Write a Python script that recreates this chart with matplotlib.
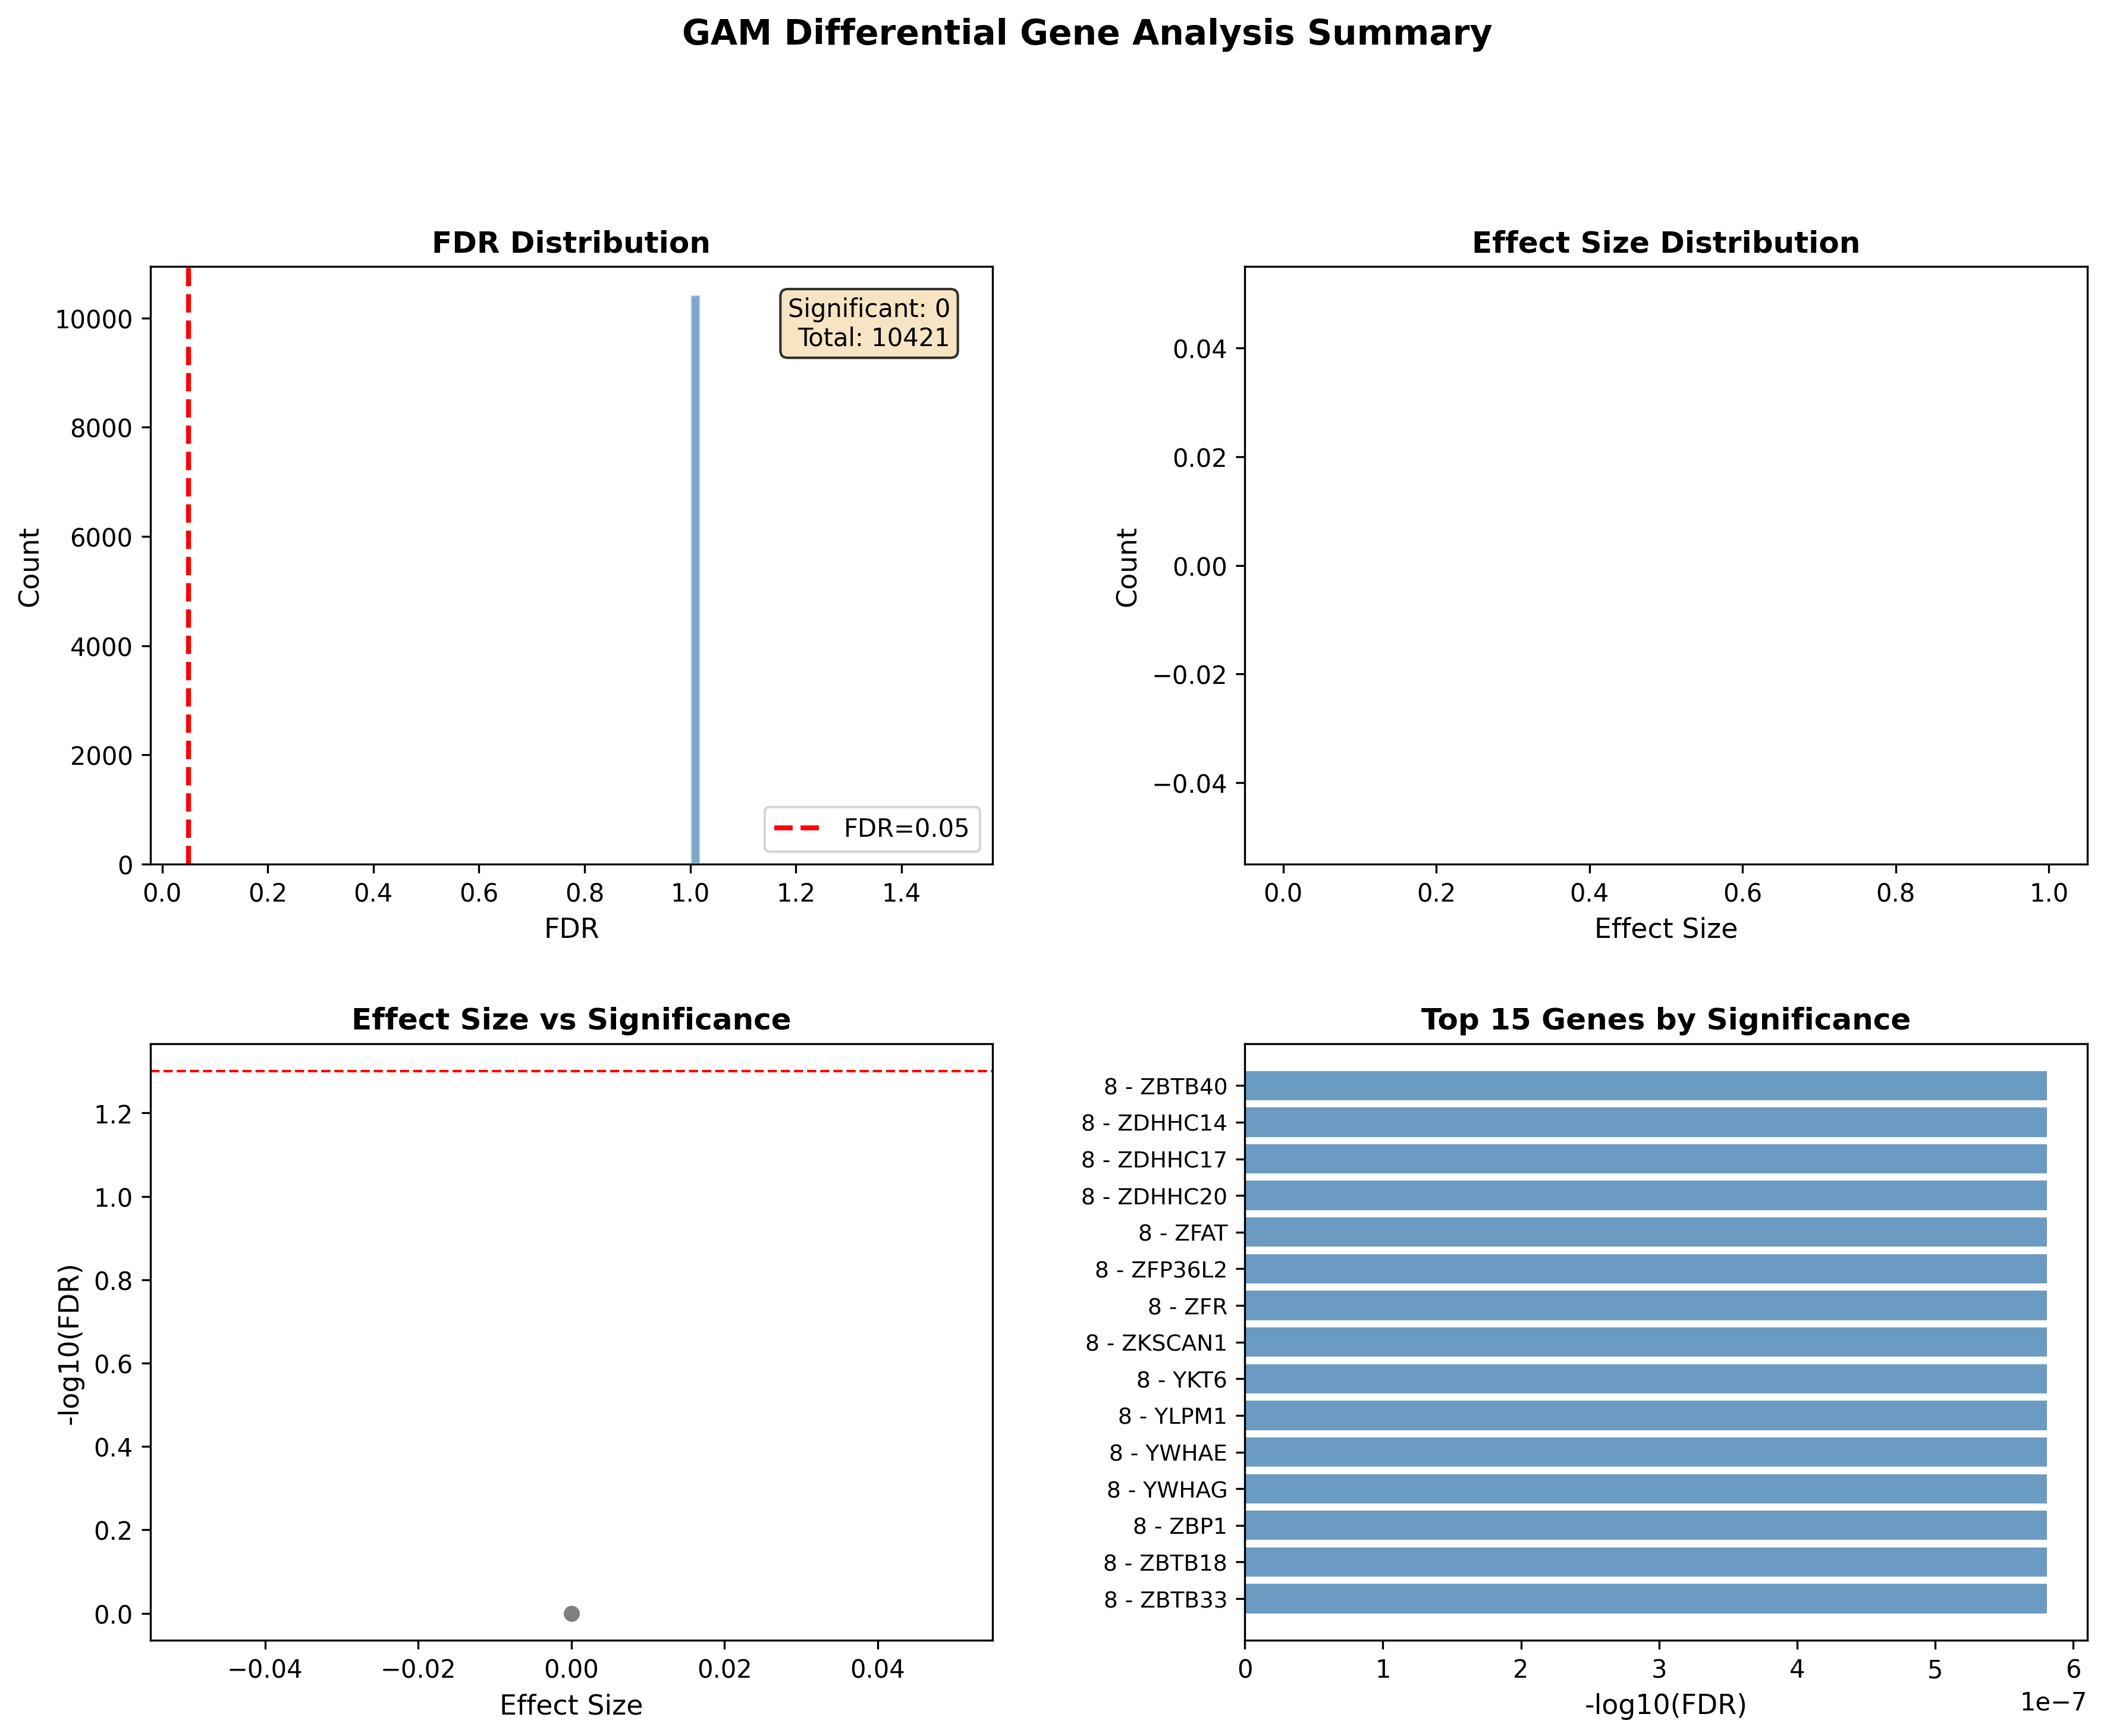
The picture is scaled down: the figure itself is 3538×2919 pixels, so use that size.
import matplotlib
matplotlib.use("Agg")
import matplotlib.pyplot as plt

# ---- data ----
fdr_values = [1.0]            # all genes have FDR = 1.0
fdr_counts = [10421]          # number of genes at that FDR
fdr_threshold = 0.05
n_significant = 0
n_total = 10421

effect_sizes_hist = []        # no finite effect sizes

scatter_effect = [0.0]
scatter_neglog_fdr = [0.0]
sig_line = 1.3010299956639813   # -log10(0.05)

top_gene_labels = ["8 - ZBTB33", "8 - ZBTB18", "8 - ZBP1", "8 - YWHAG", "8 - YWHAE",
                   "8 - YLPM1", "8 - YKT6", "8 - ZKSCAN1", "8 - ZFR", "8 - ZFP36L2",
                   "8 - ZFAT", "8 - ZDHHC20", "8 - ZDHHC17", "8 - ZDHHC14", "8 - ZBTB40"]
top_gene_values = [5.81e-7] * 15

# ---- figure ----
W, H = 3538, 2920
dpi = 300
fig = plt.figure(figsize=(W / dpi, H / dpi), dpi=dpi)

col_left = [252.7 / W, 2093.3 / W]
col_w = 1416.3 / W
row_bottom = [1 - 1454.0 / H, 1 - 2759.3 / H]
row_h = [1004.7 / H, 1003.3 / H]

ax1 = fig.add_axes([col_left[0], row_bottom[0], col_w, row_h[0]])
ax2 = fig.add_axes([col_left[1], row_bottom[0], col_w, row_h[0]])
ax3 = fig.add_axes([col_left[0], row_bottom[1], col_w, row_h[1]])
ax4 = fig.add_axes([col_left[1], row_bottom[1], col_w, row_h[1]])

# FDR distribution
ax1.hist(fdr_values, bins=50, weights=fdr_counts, color="steelblue", alpha=0.7,
         edgecolor="white")
ax1.axvline(fdr_threshold, color="red", linestyle="--", linewidth=2,
            label=f"FDR={fdr_threshold}")
ax1.set_xlabel("FDR", fontsize=11)
ax1.set_ylabel("Count", fontsize=11)
ax1.set_title("FDR Distribution", fontsize=12, fontweight="bold")
ax1.legend(loc="lower right")
ax1.text(0.95, 0.95, f"Significant: {n_significant}\nTotal: {n_total}",
         transform=ax1.transAxes, ha="right", va="top", fontsize=10,
         bbox=dict(boxstyle="round", facecolor="wheat", alpha=0.8))

# Effect size distribution (empty)
ax2.hist(effect_sizes_hist, bins=50, color="steelblue", alpha=0.7, edgecolor="white")
ax2.set_xlabel("Effect Size", fontsize=11)
ax2.set_ylabel("Count", fontsize=11)
ax2.set_title("Effect Size Distribution", fontsize=12, fontweight="bold")

# Effect size vs significance
ax3.scatter(scatter_effect, scatter_neglog_fdr, c="gray", s=30, alpha=1.0)
ax3.axhline(sig_line, color="red", linestyle="--", linewidth=1)
ax3.set_xlabel("Effect Size", fontsize=11)
ax3.set_ylabel("-log10(FDR)", fontsize=11)
ax3.set_title("Effect Size vs Significance", fontsize=12, fontweight="bold")

# Top genes
ypos = list(range(len(top_gene_labels)))
ax4.barh(ypos, top_gene_values, color="steelblue", alpha=0.8)
ax4.set_yticks(ypos)
ax4.set_yticklabels(top_gene_labels, fontsize=9)
ax4.set_xlabel("-log10(FDR)", fontsize=11)
ax4.set_title("Top 15 Genes by Significance", fontsize=12, fontweight="bold")

fig.text(1828 / W, 1 - 75 / H, "GAM Differential Gene Analysis Summary",
         ha="center", va="baseline", fontsize=14, fontweight="bold")

fig.savefig("out.png", dpi=dpi)
